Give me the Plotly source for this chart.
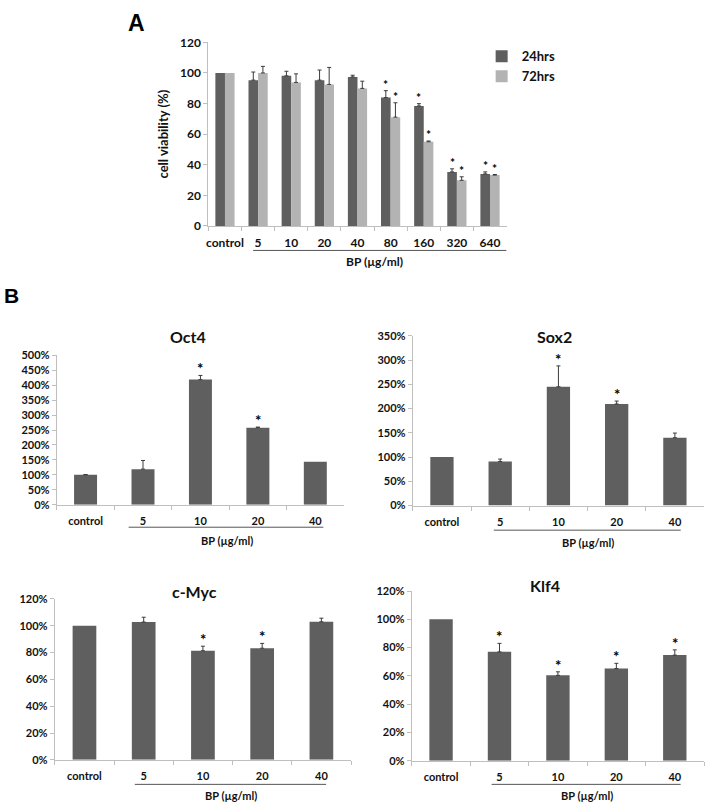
import plotly.graph_objects as go

W, H = 708, 811

# ---------------- data ----------------
a_cats = ["control", "5", "10", "20", "40", "80", "160", "320", "640"]
a_24 = [100, 95.3, 98.1, 95.3, 97.4, 83.9, 78.4, 35.3, 34.0]
a_24_err = [0, 5.3, 3.0, 6.6, 1.1, 4.5, 1.5, 2.0, 1.3]
a_72 = [100, 100, 93.8, 92.5, 89.9, 71.1, 55.0, 29.8, 33.2]
a_72_err = [0, 4.3, 5.6, 11.1, 4.7, 9.4, 0.5, 2.3, 0.4]
a_24_star = [False, False, False, False, False, True, True, True, True]
a_72_star = [False, False, False, False, False, True, True, True, True]

b_cats = ["control", "5", "10", "20", "40"]
oct4 = [100, 119, 419, 258, 144]
oct4_err = [1, 29, 14, 2, 0]
oct4_star = [False, False, True, True, False]
sox2 = [100, 91, 245, 209.5, 140]
sox2_err = [0, 5, 43, 6, 9.5]
sox2_star = [False, False, True, True, False]
cmyc = [100, 102.7, 81.3, 83.2, 102.9]
cmyc_err = [0, 3.6, 3.4, 3.6, 2.7]
cmyc_star = [False, False, True, True, False]
klf4 = [100, 77, 60.4, 65.2, 74.7]
klf4_err = [0, 6, 2.5, 3.7, 3.7]
klf4_star = [False, True, True, True, True]

# ---------------- style ----------------
DARK = "#5f5f5f"
LIGHT = "#b3b3b3"
ERR = "#3c3c3c"
AXC = "#bfbfbf"
FONT = "Lato"
TXT = "#111111"


def px_x(p):
    return p / W


def px_y(p):
    return 1 - p / H


def err_trace(cats, vals, errs, xa, ya):
    """Invisible markers that carry the (upward-only) error bars, skipping zero errors."""
    idx = [i for i, e in enumerate(errs) if e > 0]
    return go.Scatter(
        x=[cats[i] for i in idx], y=[vals[i] for i in idx], mode="markers",
        marker=dict(size=1, opacity=0), showlegend=False, hoverinfo="skip",
        error_y=dict(type="data", array=[errs[i] for i in idx], arrayminus=[0] * len(idx),
                     symmetric=False, color=ERR, thickness=1, width=2),
        xaxis=xa, yaxis=ya)


fig = go.Figure()

fig.add_trace(go.Bar(x=a_cats, y=a_24, name="24hrs", marker_color=DARK, marker_line_width=0,
                     xaxis="x", yaxis="y"))
fig.add_trace(go.Bar(x=a_cats, y=a_72, name="72hrs", marker_color=LIGHT, marker_line_width=0,
                     xaxis="x", yaxis="y"))
fig.add_trace(err_trace(a_cats, a_24, a_24_err, "x", "y"))
fig.add_trace(err_trace(a_cats, a_72, a_72_err, "x", "y"))

panels = [
    (oct4, oct4_err, oct4_star, "2"),
    (sox2, sox2_err, sox2_star, "3"),
    (cmyc, cmyc_err, cmyc_star, "4"),
    (klf4, klf4_err, klf4_star, "5"),
]
for vals, errs, stars, n in panels:
    fig.add_trace(go.Bar(x=b_cats, y=vals, width=0.4, marker_color=DARK, marker_line_width=0,
                         showlegend=False, xaxis="x" + n, yaxis="y" + n))
    fig.add_trace(err_trace(b_cats, vals, errs, "x" + n, "y" + n))

STAR_A = dict(size=12, family=FONT, color="#000000", weight="bold")
STAR_B = dict(size=15, family=FONT, color="#000000", weight="bold")

annotations = []
for i in range(len(a_cats)):
    if a_24_star[i]:
        annotations.append(dict(x=i, y=a_24[i] + a_24_err[i], xref="x", yref="y",
                                text="*", showarrow=False, xshift=-4.8, yshift=-3,
                                yanchor="bottom", font=STAR_A))
    if a_72_star[i]:
        annotations.append(dict(x=i, y=a_72[i] + a_72_err[i], xref="x", yref="y",
                                text="*", showarrow=False, xshift=4.8, yshift=-3,
                                yanchor="bottom", font=STAR_A))
for vals, errs, stars, n in panels:
    for i in range(len(b_cats)):
        if stars[i]:
            annotations.append(dict(x=i, y=vals[i] + errs[i], xref="x" + n, yref="y" + n,
                                    text="*", showarrow=False, yshift=-4,
                                    yanchor="bottom", font=STAR_B))

# panel letters
annotations.append(dict(x=px_x(135), y=px_y(15), xref="paper", yref="paper", text="A",
                        xanchor="center", yanchor="middle", showarrow=False,
                        font=dict(size=23, family="Liberation Sans", color="#000", weight="bold")))
annotations.append(dict(x=px_x(10), y=px_y(293), xref="paper", yref="paper", text="B",
                        xanchor="center", yanchor="middle", showarrow=False,
                        font=dict(size=21, family="Liberation Sans", color="#000", weight="bold")))

# titles
for t, xc, yc in [("Oct4", 187, 335), ("Sox2", 554, 335), ("c-Myc", 193, 594), ("Klf4", 545, 588)]:
    annotations.append(dict(x=px_x(xc), y=px_y(yc), xref="paper", yref="paper", text=t,
                            xanchor="center", yanchor="middle", showarrow=False,
                            font=dict(size=16, family=FONT, color=TXT, weight="bold")))

# BP labels and underline
shapes = []
bp = [("x", 4.5, 258, 0.85, 8.5, 247),
      ("x2", 2.47, 543, 0.75, 4.14, 529),
      ("x3", 2.5, 545, 0.89, 4.1, 532),
      ("x4", 2.48, 802, 0.85, 4.08, 791),
      ("x5", 2.49, 802, 0.865, 4.1, 791)]
for xr, xc, yc, x0, x1, yl in bp:
    annotations.append(dict(x=xc, y=px_y(yc), xref=xr, yref="paper", text="BP (µg/ml)",
                            xanchor="center", yanchor="middle", showarrow=False,
                            font=dict(size=12 if xr == "x" else 11, family=FONT, color=TXT, weight="bold")))
    shapes.append(dict(type="line", xref=xr, yref="paper", x0=x0, x1=x1, y0=px_y(yl), y1=px_y(yl),
                       line=dict(color="#555555", width=1)))

tickfont_a = dict(size=12, family=FONT, color=TXT, weight="bold")
tickfont_b = dict(size=11, family=FONT, color=TXT, weight="bold")


def xax(x0, x1, yanchor, tf, standoff, ncat):
    return dict(domain=[px_x(x0), px_x(x1)], anchor=yanchor, type="category",
                range=[-0.5, ncat - 0.5], autorange=False,
                showline=True, linecolor=AXC, linewidth=1, ticks="outside", tickson="boundaries",
                ticklen=4, tickcolor=AXC, tickfont=tf, showgrid=False, zeroline=False,
                ticklabelstandoff=standoff, tickangle=0, fixedrange=True)


def yax(y0, y1, xanchor, rng, dt, tf, suffix=""):
    return dict(domain=[px_y(y1), px_y(y0)], anchor=xanchor, range=rng, dtick=dt,
                showline=True, linecolor=AXC, linewidth=1, ticks="outside", ticklen=4,
                tickcolor=AXC, tickfont=tf, showgrid=False, zeroline=False,
                ticksuffix=suffix, fixedrange=True)


layout = dict(
    width=W, height=H, margin=dict(l=0, r=0, t=0, b=0),
    paper_bgcolor="white", plot_bgcolor="white",
    barmode="group", bargap=0.42, bargroupgap=0,
    scattermode="group", scattergap=0.42,
    font=dict(family=FONT, color=TXT),
    showlegend=True,
    legend=dict(x=px_x(481), y=px_y(34), xanchor="left", yanchor="top",
                font=dict(size=13, family=FONT, color=TXT, weight="bold"),
                bgcolor="rgba(0,0,0,0)", tracegroupgap=0, itemwidth=30),
    annotations=annotations, shapes=shapes,
    xaxis=xax(207, 506, "y", tickfont_a, 6, len(a_cats)),
    yaxis=yax(35, 222, "x", [0, 120], 20, tickfont_a),
    xaxis2=xax(55, 343, "y2", tickfont_b, 6, len(b_cats)),
    yaxis2=yax(354, 506, "x2", [0, 500], 50, tickfont_b, "%"),
    xaxis3=xax(412, 704, "y3", tickfont_b, 6, len(b_cats)),
    yaxis3=yax(334, 507, "x3", [0, 350], 50, tickfont_b, "%"),
    xaxis4=xax(53, 350, "y4", tickfont_b, 6, len(b_cats)),
    yaxis4=yax(602, 766, "x4", [0, 120], 20, tickfont_b, "%"),
    xaxis5=xax(411, 704, "y5", tickfont_b, 6, len(b_cats)),
    yaxis5=yax(594, 767, "x5", [0, 120], 20, tickfont_b, "%"),
)
layout["yaxis"]["title"] = dict(text="cell viability (%)", font=dict(size=13, family=FONT, color=TXT, weight="bold"),
                                standoff=8)
fig.update_layout(**layout)

fig.write_html("out.html", config={"displayModeBar": False},
               post_script="document.body.style.margin='0';")
